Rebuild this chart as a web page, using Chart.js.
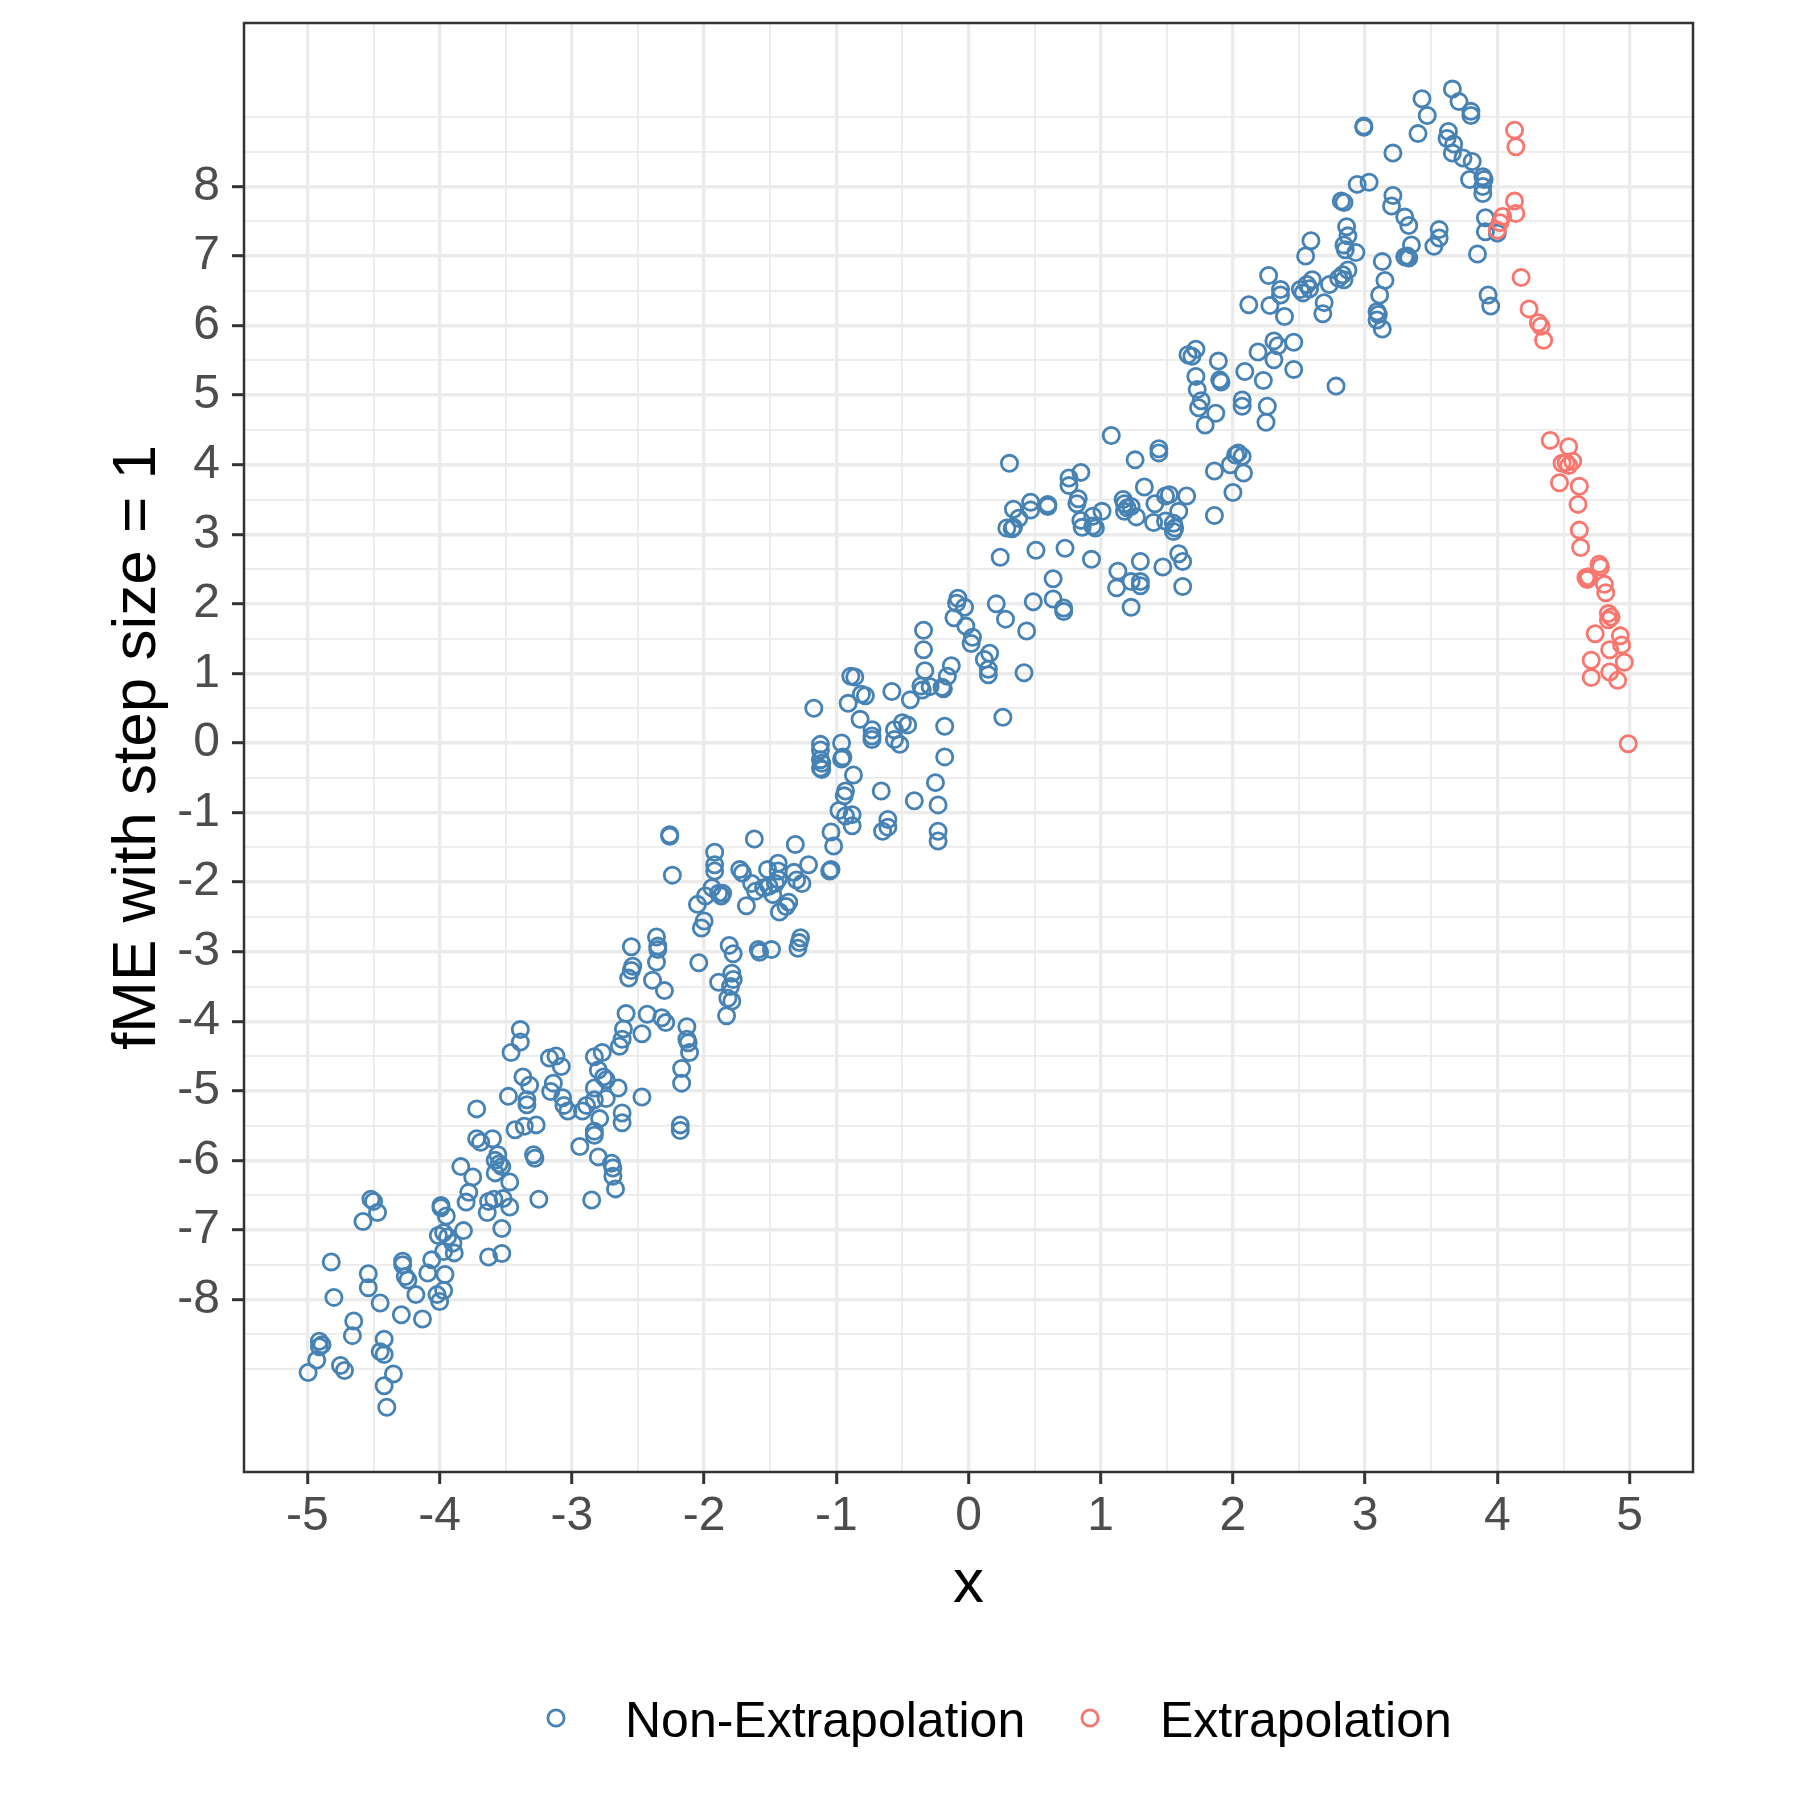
<!DOCTYPE html>
<html>
<head>
<meta charset="utf-8">
<title>fME with step size = 1</title>
<script src="https://cdn.jsdelivr.net/npm/chart.js@4.4.1/dist/chart.umd.min.js"></script>
<style>
  html, body { margin: 0; padding: 0; background: #ffffff; }
  #wrap { width: 1800px; height: 1800px; }
</style>
</head>
<body>
<div id="wrap"><canvas id="chart" width="1800" height="1800"></canvas></div>
<script>
// tick labels shown on the axes
const xTickLabels = [-5, -4, -3, -2, -1, 0, 1, 2, 3, 4, 5];
const yTickLabels = [-8, -7, -6, -5, -4, -3, -2, -1, 0, 1, 2, 3, 4, 5, 6, 7, 8];

const seriesNames = ['Non-Extrapolation', 'Extrapolation'];

// Non-Extrapolation points
const nonExtraX = [
  -4.995, -4.93, -4.91, -4.91, -4.89, -4.82, -4.80, -4.75, -4.72, -4.65, -4.66, -4.58, -4.52, -4.50, -4.47,
  -4.54, -4.54, -4.45, -4.42, -4.45, -4.42, -4.35, -4.42, -4.40, -4.29, -4.28, -4.28, -4.26, -4.24, -4.18,
  -4.13, -4.09, -4.06, -4.02, -4.00, -3.97, -3.96, -4.01, -3.97, -3.94, -3.90, -3.97, -3.89, -3.99, -3.99,
  -3.95, -3.82, -3.84, -3.75, -3.78, -3.80, -3.72, -3.72, -3.69, -3.60, -3.63, -3.64, -3.59, -3.52, -3.47,
  -3.63, -3.53, -3.53, -3.56, -3.58, -3.55, -3.53, -3.58, -3.47, -3.48, -3.46, -3.39, -3.39, -3.37, -3.32,
  -3.34, -3.34, -3.43, -3.36, -3.27, -3.29, -3.28, -3.25, -3.17, -3.12, -3.08, -3.14, -3.16, -3.07, -3.06,
  -3.03, -2.94, -2.92, -2.89, -2.83, -2.83, -2.77, -2.80, -2.76, -2.74, -2.83, -2.65, -2.74, -2.79, -2.83,
  -2.83, -2.80, -2.85, -2.70, -2.69, -2.69, -2.67, -2.62, -2.62, -2.47, -2.64, -2.62, -2.61, -2.59, -2.47,
  -2.43, -2.32, -2.29, -2.13, -2.13, -2.12, -2.11, -2.17, -2.17, -2.18, -2.18, -1.83,
  -2.55, -2.54, -2.55, -2.57, -2.36, -2.35, -2.35, -2.36, -2.39, -2.30, -2.26, -2.26, -2.24, -2.04, -1.92,
  -1.92, -1.92, -2.05, -1.99, -2.00, -2.02, -1.94, -1.89, -1.87, -1.86, -1.81, -1.78, -1.89, -1.79, -1.78,
  -1.80, -1.82, -1.79, -1.73, -1.71, -1.62, -1.68, -1.64, -1.61, -1.52, -1.44, -1.44, -1.55, -1.51, -1.46,
  -1.44, -1.48, -1.43, -1.38, -1.36, -1.58, -1.59, -1.49, -1.31, -1.32, -1.30, -1.26, -1.21, -1.27, -1.28,
  -1.29, -1.12, -1.12, -1.12, -1.11, -1.12, -1.11, -0.96, -0.95, -0.96, -0.87, -0.93, -0.94, -0.98, -0.93,
  -0.88, -0.88, -1.04, -1.02, -1.04, -1.05, -0.73, -0.73, -0.73, -0.56, -0.56, -0.52, -0.50, -0.46, -0.18,
  -0.18, -0.66, -0.41, -0.25, -0.23, -0.61, -0.65, -0.61, -0.23, -0.23,
  0.31, 0.24, 0.34, 0.38, 0.34, 0.29, 0.33, 0.47, 0.47, 0.60, 0.60, 0.51, 0.73, 0.64, 0.64,
  0.72, 0.72, 0.49, 0.76, 0.85, 0.76, 0.83, 0.82, 0.85, 0.86, 0.94, 0.96, 1.01, 0.94, 0.93,
  1.26, 1.44, 1.44, 1.33, 1.17, 1.18, 1.20, 1.18, 1.23, 1.27, 1.41, 1.40, 1.49, 1.52, 1.49,
  1.55, 1.59, 1.65, 1.56, 1.55, 1.13, 1.12, 1.23, 1.30, 1.30, 1.30, 1.23, 1.47, 1.59, 1.62,
  1.62, 1.86, 1.86, 1.98, 2.02, 2.04, 2.07, 2.08, 2.00, -0.08, -0.09, -0.03, -0.11, -0.34, -0.34,
  -0.02, 0.03, 0.02, 0.21, 0.28, 0.44, 0.16, 0.12, 0.15, 0.15, 0.42, 0.26, -0.33, -0.13, -0.16,
  -0.19, -0.36, -0.35, -0.29, -0.20, -0.58, -0.44, -0.89, -0.86, -0.81, -0.78, -0.91, -0.82, -1.17,
  1.08, 1.66, 1.69, 1.72, 1.72, 1.73, 1.76, 1.74, 1.79, 1.87, 1.89, 1.90, 1.91, 2.09, 2.07,
  2.07, 2.19, 2.23, 2.26, 2.25, 2.31, 2.34, 2.31, 2.46, 2.46, 2.78, 2.12, 2.27, 2.28, 2.36,
  2.36, 2.39, 2.51, 2.53, 2.56, 2.60, 2.58, 2.55, 2.59, 2.69, 2.68, 2.73, 2.80, 2.83, 2.87,
  2.84, 2.82, 2.84, 2.86, 2.87, 2.84, 2.85, 2.93, 2.94, 3.03, 3.13, 3.15, 3.11, 3.09, 3.10,
  3.09, 3.13, 3.21, 3.20, 3.30, 3.33, 3.35, 3.30, 3.33, 3.32, 3.21, 3.56, 3.56, 3.52, 3.66,
  3.74, 3.81, 3.79, 3.89, 3.90, 3.89, 3.89, 3.91, 3.91, 3.85, 3.93, 3.95, 4.00,
  2.99, 2.99, 3.43, 3.47, 3.40, 3.66, 3.71, 3.80, 3.80, 3.63, 3.62, 3.67
];
const nonExtraY = [
  -9.05, -8.87, -8.60, -8.68, -8.65, -7.46, -7.97, -8.95, -9.02, -8.31, -8.52, -6.88, -6.56, -6.59, -6.75,
  -7.63, -7.83, -8.05, -8.57, -8.75, -8.79, -9.07, -9.24, -9.55, -8.22, -7.45, -7.50, -7.67, -7.72, -7.93,
  -8.28, -7.62, -7.43, -7.93, -8.03, -7.87, -7.64, -7.08, -7.04, -7.10, -7.19, -7.31, -7.33, -6.65, -6.68,
  -6.80, -7.01, -6.09, -6.24, -6.46, -6.60, -5.26, -5.69, -5.74, -5.69, -6.59, -6.75, -6.56, -6.55, -6.67,
  -7.39, -7.34, -6.98, -5.92, -6.00, -6.05, -6.09, -6.18, -6.31, -5.08, -4.45, -4.12, -4.30, -4.80, -4.92,
  -5.13, -5.20, -5.56, -5.51, -5.49, -5.92, -5.97, -6.56, -4.53, -4.50, -4.65, -4.89, -5.01, -5.10, -5.21,
  -5.29, -5.80, -5.29, -5.21, -5.13, -4.51, -4.45, -4.70, -4.80, -4.84, -4.96, -4.96, -5.11, -5.40, -5.58,
  -5.64, -5.95, -6.57, -6.04, -6.11, -6.23, -6.41, -5.32, -5.46, -5.09, -4.36, -4.26, -4.11, -3.89, -4.18,
  -3.90, -3.95, -4.02, -4.08, -4.26, -4.31, -4.45, -4.68, -4.89, -5.49, -5.57, -3.92,
  -2.93, -3.21, -3.27, -3.38, -2.79, -2.92, -2.97, -3.15, -3.41, -3.56, -1.32, -1.34, -1.90, -3.16, -1.57,
  -1.75, -1.84, -2.32, -2.20, -2.56, -2.66, -2.08, -2.16, -2.20, -2.16, -2.91, -3.03, -3.44, -3.31, -3.40,
  -3.50, -3.67, -3.71, -1.82, -1.87, -1.38, -2.34, -2.02, -2.13, -1.82, -1.73, -1.84, -2.08, -2.06, -2.02,
  -1.96, -2.18, -2.43, -2.35, -2.29, -3.01, -2.97, -2.97, -1.46, -1.86, -1.97, -2.02, -1.75, -2.80, -2.87,
  -2.95, -0.02, -0.10, -0.24, -0.29, -0.36, -0.38, 0.00, -0.20, -0.23, -0.46, -0.69, -0.76, -0.97, -1.05,
  -1.03, -1.19, -1.28, -1.48, -1.82, -1.84, 0.19, 0.10, 0.05, 0.19, 0.05, -0.02, 0.29, 0.26, 0.24,
  -0.20, -0.69, -0.83, -0.57, -0.89, -1.10, -1.27, -1.21, -1.27, -1.41,
  4.02, 2.67, 3.36, 3.23, 3.10, 3.09, 3.08, 3.46, 3.35, 3.43, 3.40, 2.77, 2.80, 2.36, 2.07,
  1.94, 1.89, 2.03, 3.81, 3.89, 3.70, 3.51, 3.44, 3.20, 3.10, 3.26, 3.09, 3.33, 3.12, 2.64,
  4.07, 4.23, 4.17, 3.68, 3.50, 3.44, 3.38, 3.33, 3.40, 3.25, 3.44, 3.17, 3.55, 3.57, 3.19,
  3.16, 3.33, 3.55, 3.09, 3.04, 2.47, 2.23, 2.32, 2.61, 2.32, 2.26, 1.95, 2.53, 2.72, 2.61,
  2.25, 3.91, 3.27, 4.00, 4.14, 4.17, 4.12, 3.88, 3.60, 2.08, 2.01, 1.95, 1.80, 1.62, 1.34,
  1.68, 1.52, 1.43, 2.00, 1.78, 1.61, 1.29, 1.20, 1.06, 0.98, 1.01, 0.37, 1.04, 1.11, 0.96,
  0.78, 0.82, 0.76, 0.81, 0.80, 0.74, 0.62, 0.96, 0.95, 0.70, 0.68, 0.57, 0.34, 0.50,
  4.42, 5.58, 5.56, 5.66, 5.27, 5.08, 4.92, 4.82, 4.57, 4.74, 5.49, 5.22, 5.19, 5.34, 4.93,
  4.84, 5.62, 5.21, 4.84, 4.61, 5.78, 5.71, 5.51, 5.76, 5.37, 5.13, 6.30, 6.72, 6.29, 6.52,
  6.44, 6.13, 6.52, 6.47, 6.59, 6.66, 6.53, 7.00, 7.22, 6.33, 6.17, 6.59, 6.68, 6.73, 6.80,
  6.66, 7.79, 7.77, 7.42, 7.29, 7.16, 7.09, 7.05, 8.03, 8.06, 6.92, 6.65, 6.44, 6.20, 6.16,
  6.08, 5.95, 7.87, 7.72, 7.56, 7.44, 7.16, 6.99, 6.97, 7.00, 8.48, 7.38, 7.26, 7.14, 8.48,
  8.41, 8.36, 8.10, 8.14, 8.10, 8.00, 7.90, 7.55, 7.35, 7.03, 6.44, 6.28, 7.33,
  8.85, 8.87, 9.26, 9.02, 8.76, 9.40, 9.22, 9.08, 9.02, 8.79, 8.69, 8.61
];

// Extrapolation points
const extraX = [
  4.13, 4.14, 4.13, 4.14, 4.04, 4.02, 4.00, 4.18, 4.24, 4.31, 4.33, 4.35, 4.40, 4.54, 4.49,
  4.52, 4.54, 4.57, 4.47, 4.62, 4.61, 4.62, 4.63, 4.77, 4.78, 4.67, 4.68, 4.69, 4.81, 4.82,
  4.84, 4.86, 4.84, 4.74, 4.93, 4.94, 4.85, 4.96, 4.71, 4.71, 4.85, 4.91, 4.99
];
const extraY = [
  8.81, 8.57, 7.79, 7.61, 7.57, 7.48, 7.37, 6.69, 6.24, 6.04, 5.99, 5.79, 4.35, 4.26, 4.02,
  4.03, 3.99, 4.05, 3.74, 3.69, 3.43, 3.06, 2.81, 2.57, 2.53, 2.38, 2.35, 2.39, 2.28, 2.16,
  1.86, 1.81, 1.77, 1.57, 1.54, 1.41, 1.34, 1.16, 1.19, 0.94, 1.02, 0.90, -0.01
];

const seriesColors = ['#4682B4', '#F8766D'];

const FONT = '"Liberation Sans", Arial, Helvetica, sans-serif';
Chart.defaults.font.family = FONT;

const POINT_R = 8.1;
const POINT_W = 2.8;

function toPoints(xs, ys) {
  return xs.map((x, i) => ({ x: x, y: ys[i] }));
}

// grid lines at every half step; one extra minor line past the labelled range
function halfSteps(labels) {
  const out = [];
  const lo = labels[0] - 1, hi = labels[labels.length - 1] + 1;
  for (let v = lo; v <= hi + 1e-9; v += 0.5) out.push(Math.round(v * 2) / 2);
  return out;
}

function isMajor(v, labels) {
  return labels.indexOf(v) !== -1;
}

function axisOptions(labels, min, max, isX) {
  const gridValues = halfSteps(labels).filter(v => v >= min && v <= max);
  return {
    type: 'linear',
    min: min,
    max: max,
    afterBuildTicks: scale => {
      scale.ticks = gridValues.map(v => ({ value: v }));
    },
    afterFit: scale => {
      if (isX) scale.height = 328; else scale.width = 244;
      // keep the panel where it is; no room reserved for label overhang
      scale.paddingTop = 0;
      scale.paddingBottom = 0;
      scale.paddingLeft = 0;
      scale.paddingRight = 0;
    },
    border: { display: false },
    grid: {
      color: '#EBEBEB',
      lineWidth: ctx => (ctx.tick && isMajor(ctx.tick.value, labels)) ? 3.4 : 1.8,
      drawTicks: true,
      tickLength: 12,
      tickColor: ctx => (ctx.tick && isMajor(ctx.tick.value, labels)) ? '#333333' : 'rgba(0,0,0,0)',
      tickWidth: 3
    },
    ticks: {
      autoSkip: false,
      maxRotation: 0,
      minRotation: 0,
      padding: isX ? 4 : 12,
      color: '#4D4D4D',
      font: { family: FONT, size: 48 },
      callback: v => isMajor(v, labels) ? String(v) : ''
    }
  };
}

const panelDecor = {
  id: 'panelDecor',
  afterDraw(chart) {
    const ctx = chart.ctx;
    const a = chart.chartArea;
    ctx.save();

    // panel border
    ctx.strokeStyle = '#333333';
    ctx.lineWidth = 2.5;
    ctx.strokeRect(a.left, a.top, a.right - a.left, a.bottom - a.top);

    // axis titles
    ctx.fillStyle = '#000000';
    ctx.font = '62px ' + FONT;
    ctx.textAlign = 'center';
    ctx.textBaseline = 'alphabetic';
    ctx.fillText('x', (a.left + a.right) / 2, 1602);

    ctx.save();
    ctx.translate(155, (a.top + a.bottom) / 2);
    ctx.rotate(-Math.PI / 2);
    ctx.fillText('fME with step size = 1', 0, 0);
    ctx.restore();

    // legend
    const keys = [
      { cx: 556, tx: 625 },
      { cx: 1090, tx: 1160 }
    ];
    ctx.font = '50px ' + FONT;
    ctx.textAlign = 'left';
    keys.forEach((k, i) => {
      ctx.beginPath();
      ctx.arc(k.cx, 1718, POINT_R, 0, Math.PI * 2);
      ctx.strokeStyle = seriesColors[i];
      ctx.lineWidth = POINT_W;
      ctx.stroke();
      ctx.fillStyle = '#000000';
      ctx.fillText(seriesNames[i], k.tx, 1737);
    });

    ctx.restore();
  }
};

const pointStyle = color => ({
  pointStyle: 'circle',
  pointRadius: POINT_R,
  pointBorderWidth: POINT_W,
  pointBorderColor: color,
  pointBackgroundColor: 'rgba(0,0,0,0)',
  borderColor: color,
  backgroundColor: 'rgba(0,0,0,0)',
  showLine: false
});

new Chart(document.getElementById('chart'), {
  type: 'scatter',
  data: {
    datasets: [
      Object.assign({ label: seriesNames[0], data: toPoints(nonExtraX, nonExtraY), order: 1 }, pointStyle(seriesColors[0])),
      Object.assign({ label: seriesNames[1], data: toPoints(extraX, extraY), order: 0 }, pointStyle(seriesColors[1]))
    ]
  },
  options: {
    responsive: false,
    devicePixelRatio: 1,
    animation: false,
    events: [],
    layout: { padding: { top: 23, right: 107, left: 0, bottom: 0 } },
    plugins: {
      legend: { display: false },
      tooltip: { enabled: false },
      title: { display: false }
    },
    scales: {
      x: axisOptions(xTickLabels, -5.48, 5.48, true),
      y: axisOptions(yTickLabels, -10.48, 10.35, false)
    }
  },
  plugins: [panelDecor]
});
</script>
</body>
</html>
